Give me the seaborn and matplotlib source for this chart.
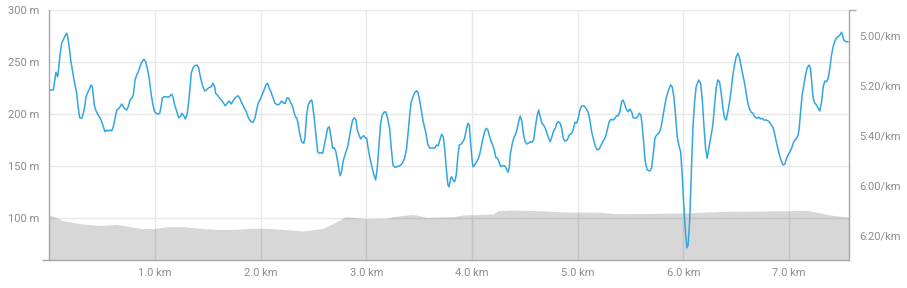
import numpy as np
import pandas as pd
import matplotlib
matplotlib.use("Agg")
import matplotlib.pyplot as plt
import seaborn as sns
from matplotlib.ticker import FixedLocator, FuncFormatter

# ---------------- data ----------------
# Elevation profile (distance in km, elevation in m)
elev_km = [0, 0.05, 0.13, 0.32, 0.48, 0.64, 0.86, 0.99, 1.11, 1.27, 1.43, 1.58, 1.74, 1.90,
           2.06, 2.21, 2.40, 2.59, 2.69, 2.80, 3.00, 3.19, 3.25, 3.44, 3.57, 3.82, 3.92,
           4.20, 4.25, 4.39, 4.71, 4.86, 5.18, 5.37, 5.75, 6.06, 6.38, 6.69, 7.01, 7.17,
           7.26, 7.39, 7.57]
elev_m = [103.2, 101.5, 97.7, 94.5, 93.2, 94.2, 90.4, 90, 92, 92, 90.4, 89.4, 89.4, 90.4,
          90.4, 89.4, 87.8, 90.4, 95.2, 101.6, 99.7, 100, 101.6, 103.8, 101, 101.6, 103.2,
          104.2, 107.4, 108, 107, 106, 106, 104.5, 104.8, 105.4, 106.7, 107, 107.4, 107.7,
          106, 103.2, 101]

# Pace (distance in metres, pace in seconds per km)
pace_dist_m = [
    0, 38, 54, 63, 73, 79, 85, 101, 117, 132, 148, 165, 174, 186, 205, 221, 237, 259, 274, 288,
    307, 322, 338, 347, 360, 376, 395, 407, 416, 426, 439, 458, 480, 496, 511, 527, 543, 558, 574, 590,
    606, 622, 638, 653, 669, 685, 700, 716, 732, 747, 764, 780, 795, 811, 827, 842, 858, 874, 896, 912,
    927, 943, 953,
    965, 981, 997, 1012, 1028, 1045, 1060, 1069, 1085, 1107, 1130, 1149, 1161, 1173, 1186, 1202, 1224,
    1239, 1255, 1272, 1287, 1303, 1319, 1334, 1343, 1360, 1376, 1397, 1413, 1429, 1448, 1470, 1485,
    1508, 1533, 1549, 1565, 1574, 1596, 1612, 1627, 1643, 1665, 1684, 1700, 1722, 1738, 1760, 1785,
    1801, 1816, 1839, 1864, 1880, 1896, 1911, 1927,
    1946, 1965, 1977, 2003, 2028, 2050, 2066, 2081, 2097, 2114, 2135, 2161, 2176, 2199, 2218, 2233,
    2249, 2265, 2280, 2303, 2318, 2334, 2343, 2356, 2372, 2388, 2407, 2419, 2435, 2450, 2469, 2483,
    2492, 2507, 2523, 2539, 2554, 2577, 2587, 2602, 2618, 2634, 2649, 2665, 2681, 2696, 2712, 2729,
    2744, 2753, 2766, 2779, 2798, 2823, 2838, 2854, 2870, 2886, 2902,
    2914, 2930, 2946, 2961, 2977, 2993, 3003, 3015, 3034, 3056, 3072, 3088, 3103, 3119, 3135, 3150,
    3167, 3183, 3198, 3220, 3236, 3252, 3268, 3292, 3318, 3340, 3362, 3381, 3396, 3413, 3425, 3441,
    3457, 3476, 3491, 3507, 3523, 3538, 3561, 3583, 3602, 3623, 3646, 3665, 3680, 3696, 3712, 3728,
    3741, 3756, 3772, 3782, 3798, 3807, 3819, 3835, 3851, 3867,
    3879, 3895, 3914, 3930, 3945, 3961, 3974, 3983, 3999, 4009, 4025, 4040, 4062, 4078, 4100, 4119,
    4134, 4150, 4167, 4182, 4198, 4214, 4226, 4242, 4257, 4273, 4292, 4308, 4324, 4340, 4352, 4361,
    4378, 4394, 4409, 4425, 4441, 4456, 4472, 4488, 4503, 4519, 4535, 4551, 4567, 4583, 4598, 4614,
    4630, 4645, 4661, 4677, 4693, 4709, 4725, 4740, 4756, 4772, 4787, 4803, 4819, 4834,
    4848, 4863, 4879, 4901, 4920, 4942, 4957, 4974, 4990, 5005, 5021, 5037, 5059, 5078, 5099, 5115,
    5132, 5147, 5163, 5184, 5203, 5226, 5241, 5264, 5283, 5298, 5314, 5336, 5352, 5368, 5383, 5399,
    5415, 5430, 5447, 5463, 5478, 5494, 5510, 5525, 5548, 5567, 5582, 5598, 5610, 5626, 5639, 5658,
    5683, 5699, 5714, 5730, 5747, 5768, 5787, 5803,
    5822, 5837, 5860, 5879, 5894, 5910, 5926, 5941, 5957, 5974, 5989, 6002, 6017, 6033, 6045, 6059,
    6074, 6090, 6106, 6121, 6144, 6163, 6178, 6194, 6210, 6225, 6241, 6263, 6279, 6295, 6310, 6326,
    6342, 6358, 6374, 6390, 6405, 6421, 6437, 6452, 6468, 6484, 6500, 6516, 6532, 6547, 6563, 6579,
    6594, 6610, 6626, 6641, 6658, 6674, 6695, 6714, 6730, 6746, 6762, 6783, 6799,
    6812, 6828, 6850, 6866, 6882, 6897, 6913, 6929, 6944, 6960, 6976, 6991, 7008, 7024, 7039, 7055,
    7071, 7086, 7096, 7109, 7124, 7140, 7156, 7171, 7190, 7203, 7216, 7228, 7244, 7260, 7275, 7291,
    7308, 7323, 7339, 7355, 7370, 7386, 7402, 7417, 7433, 7449, 7465, 7481, 7497, 7506, 7518, 7537,
    7559,
]
pace_s = [
    322, 322, 317.3, 314.9, 316, 316.7, 314.7, 308, 303.3, 302, 300.4, 299.3, 300.7, 304, 310.7, 314.7,
    318.7, 323.3, 329.3, 333.1, 333.3, 331.3, 328, 324.7, 323.3, 322, 320, 320.7, 324, 328, 330, 331.7,
    333.1, 334.7, 336.7, 338.7, 338, 338.4, 338, 338.4, 336.7, 333.3, 330, 329.6, 328.7, 327.6, 328.7,
    329.6, 330, 328.7, 326, 325.3, 324, 318, 316, 314.7, 312.7, 310.9, 309.7, 310.7, 313.3, 316.7, 320,
    324, 328, 330.7, 331.3, 331.7, 331.3, 328, 325.3, 324.7, 324.7, 324.9, 324, 323.7, 325.3, 328, 330,
    333.1, 332.7, 331.3, 332.3, 333.6, 332, 326.7, 320, 315.3, 313.1, 312.3, 312, 313.1, 316.7, 320,
    322.4, 322, 321.1, 320.7, 319.3, 320.7, 323.3, 324.3, 325.3, 326, 326.9, 328.3, 327.3, 326.4,
    327.6, 326.4, 325.1, 324.3, 325.1, 326.7, 328.7, 330.7, 332.7, 334, 334.7, 334.9,
    333.3, 329.3, 327.3, 325.1, 322.4, 320, 319.3, 321.3, 322.7, 324.7, 327.3, 328, 327.7, 326.4,
    327.3, 327.3, 325.1, 325.3, 326.7, 328.7, 331.3, 333.1, 333.3, 336, 340, 342.7, 343.3, 341.3, 332,
    328, 326.4, 326, 328, 333.3, 340, 346.7, 347.3, 347.1, 347.3, 344, 340.7, 337.3, 336.7, 340.7,
    345.3, 345.1, 346.7, 350.7, 354.7, 356.3, 354.7, 350.7, 348, 344.7, 341.3, 337.3, 334, 333.1, 334,
    338, 340, 341.6, 340.7, 340.3, 341.3, 341.3, 344.7, 349.3, 353.3, 356, 358, 353.3, 344, 335.3, 332,
    330.9, 330.7, 332.7, 337.3, 345.3, 352, 352.9, 352.7, 352.3, 351.3, 349.3, 345.3, 338.7, 330.7,
    326.7, 324.7, 323.1, 322.3, 323.3, 326.7, 330.7, 334.7, 338.7, 344, 345.3, 345.1, 345.3, 344,
    344.3, 342, 339.7, 340.7, 345.3, 353.3, 360, 360.7, 357.3, 356.7, 358, 358.7, 356, 348,
    344, 343.7, 342.7, 341.3, 338, 335.3, 336, 341.3, 349.3, 352.7, 352, 350.9, 349.3, 346.7, 342,
    338.7, 337.3, 338, 340.7, 342.7, 344.3, 346.7, 349.1, 349.3, 350.9, 352.7, 352.3, 352.3, 353.3,
    354.9, 353.3, 348, 344, 341.3, 340, 338, 334.7, 332.4, 334.7, 340, 342.7, 343.6, 343.3, 342.7,
    342.9, 342, 337.3, 332.7, 330, 332.7, 335.3, 336, 337.3, 339.3, 341.3, 342.7, 340.7, 338.4, 337.3,
    335.3, 334.7, 335.3,
    337.3, 341.3, 342.4, 342, 340, 339.3, 338, 334.9, 335.3, 333.3, 330, 328.4, 328.3, 329.3, 330.9,
    334, 338.7, 341.3, 344, 346, 345.6, 343.7, 342.4, 340.7, 337.3, 334.7, 333.7, 334, 333.3, 332.3,
    332.3, 330.7, 326.7, 326, 328, 330, 330.7, 329.6, 330.7, 333.1, 333.3, 332.7, 331.3, 332, 336, 344,
    350.7, 354, 354.4, 353.3, 348, 341.3, 340, 339.3, 337.3, 333.3,
    328.7, 325.3, 322, 320, 320.7, 324.7, 332, 340.7, 344, 346.7, 356, 366.7, 377.3, 385.1, 384, 374.7,
    356, 337.3, 326.7, 320.7, 318, 319.3, 325.3, 336, 345.3, 349.3, 345.3, 340, 336, 328, 321.3, 318,
    318.7, 323.3, 329.3, 333.3, 334, 330.7, 326.7, 322, 316, 312, 308.7, 307.3, 309.3, 312.7, 316,
    319.3, 323.3, 327.3, 329.6, 330.9, 331.3, 332.7, 333.3, 332.9, 333.6, 333.3, 334, 334, 334.3,
    334.7, 335.7, 337.3, 340, 343.3, 346, 348.7, 350.7, 352, 351.7, 349.3, 348, 346.7, 345.3, 343.3,
    342, 341.3, 340, 337.3, 330.7, 324, 320, 316, 313.1, 312, 313.3, 319.3, 325.3, 327.3, 328, 329.3,
    330.4, 326.7, 320.7, 318.4, 318.7, 317.3, 313.3, 308, 304.7, 302.4, 301.1, 300.7, 300, 298.9, 300,
    302, 302.7, 302.7,
]

km_ticks = [1, 2, 3, 4, 5, 6, 7]
elev_ticks = [100, 150, 200, 250, 300]
pace_ticks = [300, 320, 340, 360, 380]
dist_max_km = 7.57

# ---------------- style ----------------
sns.set_theme(style="white")
plt.rcParams['font.family'] = ['Roboto', 'DejaVu Sans']

text_c = '#8c8c8c'
spine_c = '#a6a6a6'
grid_c = '#e8e8e8'
line_c = '#33a6df'

fig = plt.figure(figsize=(9.07, 2.88), dpi=100)
ax = fig.add_axes([49.3 / 907, 1 - 260 / 288, 800 / 907, 250 / 288])

# elevation area (semi-transparent grey, gridlines show through)
ax.fill_between(elev_km, elev_m, 60, color='black', alpha=0.155, lw=0, zorder=2)
ax.set_xlim(0, dist_max_km)
ax.set_ylim(60, 300)
ax.set_yticks(elev_ticks)
ax.set_yticklabels([f"{v} m" for v in elev_ticks])
ax.set_xticks(km_ticks)
ax.set_xticklabels([f"{v:.1f} km" for v in km_ticks])
ax.grid(True, color=grid_c, lw=1)
ax.set_axisbelow(True)
ax.spines['top'].set_visible(False)
ax.spines['right'].set_visible(False)
for s in ['left', 'bottom']:
    ax.spines[s].set_color(spine_c)
    ax.spines[s].set_linewidth(1)
ax.tick_params(axis='both', which='major', length=0, labelsize=8, labelcolor=text_c)
ax.tick_params(axis='y', which='major', pad=7)
ax.tick_params(axis='x', which='major', pad=6)
ax.xaxis.set_minor_locator(FixedLocator([0, dist_max_km]))
ax.yaxis.set_minor_locator(FixedLocator([60, 300]))
ax.tick_params(which='minor', length=5, width=1, color=spine_c)

# pace line on right axis
ax2 = ax.twinx()
df = pd.DataFrame({'km': np.array(pace_dist_m) / 1000.0, 'pace': pace_s})
sns.lineplot(data=df, x='km', y='pace', ax=ax2, color=line_c, lw=1.1,
             estimator=None, sort=False, zorder=5)
ax2.set_xlim(0, dist_max_km)
ax2.set_ylim(390, 290)
ax2.set_yticks(pace_ticks)
ax2.yaxis.set_major_formatter(FuncFormatter(lambda s, p: f"{int(s // 60)}:{int(s % 60):02d}/km"))
ax2.set_xlabel('')
ax2.set_ylabel('')
ax.set_xlabel('')
ax.set_ylabel('')
for s in ['top', 'left', 'bottom']:
    ax2.spines[s].set_visible(False)
ax2.spines['right'].set_color(spine_c)
ax2.spines['right'].set_linewidth(1)
ax2.tick_params(axis='y', which='major', length=0, labelsize=8, labelcolor=text_c, pad=7)
ax2.yaxis.set_minor_locator(FixedLocator([290]))
ax2.tick_params(axis='y', which='minor', length=5, width=1, color=spine_c)
ax2.grid(False)

fig.savefig('out.png', dpi=100)
